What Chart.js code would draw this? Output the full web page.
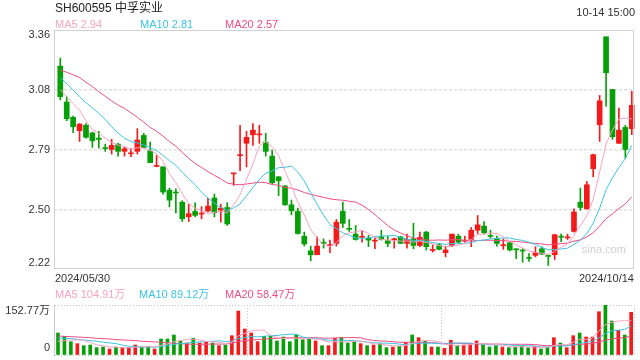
<!DOCTYPE html>
<html><head><meta charset="utf-8">
<script src="https://cdn.jsdelivr.net/npm/chart.js@4/dist/chart.umd.min.js"></script>
<style>
html,body{margin:0;padding:0;background:#fff;}
#wrap{position:relative;width:640px;height:360px;overflow:hidden;font-family:Arial,"Liberation Sans","Noto Sans CJK SC",sans-serif;}
canvas{position:absolute;left:0;top:0;}
.t{position:absolute;white-space:nowrap;font-size:11px;line-height:12px;height:12px;color:#333;}
</style></head>
<body><div id="wrap">
<canvas id="vol" width="640" height="360"></canvas>
<canvas id="price" width="640" height="360"></canvas>
<div id="texts"></div>
</div>
<script>
// ---- data (price in CNY, volume in 万) ----
const dateLabels = ['2024/05/30', '2024/10/14'];
const opens = [3.196,3.022,2.948,2.883,2.909,2.872,2.847,2.801,2.792,2.818,
2.783,2.771,2.783,2.860,2.786,2.710,2.708,2.595,2.586,2.537,
2.466,2.492,2.479,2.494,2.557,2.498,2.511,2.674,2.762,2.822,
2.863,2.863,2.828,2.760,2.660,2.615,2.524,2.492,2.372,2.301,
2.282,2.343,2.326,2.337,2.492,2.410,2.382,2.367,2.363,2.348,
2.369,2.350,2.355,2.369,2.337,2.359,2.327,2.392,2.303,2.330,
2.292,2.327,2.372,2.348,2.356,2.401,2.421,2.374,2.359,2.326,
2.340,2.309,2.303,2.267,2.279,2.311,2.277,2.282,2.371,2.364,
2.395,2.537,2.505,2.699,2.912,3.338,3.083,2.822,2.899,2.893];
const highs = [3.235,3.048,2.954,2.918,2.918,2.876,2.880,2.818,2.841,2.822,
2.805,2.796,2.893,2.870,2.828,2.763,2.708,2.605,2.602,2.544,
2.527,2.534,2.515,2.557,2.576,2.527,2.534,2.677,2.909,2.880,
2.918,2.909,2.870,2.789,2.660,2.618,2.547,2.508,2.392,2.324,
2.369,2.359,2.353,2.453,2.537,2.453,2.424,2.395,2.376,2.363,
2.401,2.372,2.363,2.372,2.382,2.434,2.392,2.395,2.330,2.337,
2.324,2.382,2.382,2.372,2.414,2.472,2.443,2.401,2.372,2.359,
2.343,2.311,2.311,2.288,2.321,2.321,2.282,2.382,2.382,2.382,
2.505,2.605,2.637,2.770,3.054,3.338,3.083,2.993,2.909,3.074];
const lows = [3.032,2.931,2.873,2.831,2.847,2.802,2.799,2.783,2.770,2.760,
2.760,2.757,2.770,2.799,2.728,2.708,2.576,2.515,2.485,2.443,
2.443,2.466,2.456,2.489,2.466,2.440,2.424,2.618,2.689,2.708,
2.812,2.822,2.760,2.624,2.569,2.521,2.476,2.382,2.324,2.253,
2.282,2.314,2.292,2.324,2.414,2.395,2.353,2.343,2.321,2.311,
2.353,2.321,2.314,2.337,2.314,2.311,2.321,2.305,2.295,2.305,
2.272,2.321,2.337,2.343,2.321,2.385,2.382,2.363,2.324,2.308,
2.301,2.263,2.246,2.250,2.272,2.282,2.230,2.259,2.346,2.356,
2.392,2.498,2.502,2.660,2.831,3.002,2.841,2.822,2.750,2.864];
const closes = [3.048,2.941,2.902,2.915,2.851,2.834,2.841,2.796,2.812,2.783,
2.796,2.775,2.838,2.802,2.728,2.713,2.586,2.547,2.581,2.456,
2.481,2.473,2.482,2.518,2.485,2.508,2.431,2.677,2.765,2.851,
2.886,2.867,2.783,2.631,2.641,2.524,2.495,2.385,2.334,2.282,
2.324,2.337,2.329,2.440,2.434,2.405,2.356,2.371,2.353,2.351,
2.356,2.337,2.358,2.337,2.356,2.327,2.366,2.321,2.306,2.308,
2.305,2.382,2.343,2.351,2.401,2.427,2.389,2.371,2.337,2.329,
2.305,2.306,2.300,2.264,2.292,2.285,2.274,2.379,2.367,2.367,
2.489,2.511,2.621,2.767,3.028,3.164,2.854,2.886,2.792,3.006];
const volumes = [67.2,57,40.7,34.6,28.5,30.5,22.4,24.4,18.3,24.4,
22.4,22.4,30.5,24.4,26.5,18.3,48.9,48.9,61.1,42.8,
36.6,50.9,36.6,40.7,36.6,28.5,30.5,59,134.4,79.4,
67.2,40.7,57,57,42.8,55,40.7,61.1,46.8,50.9,
42.8,28.5,28.5,50.9,52.9,36.6,40.7,34.6,28.5,30.5,
34.6,22.4,24.4,26.5,38.7,61.1,52.9,42.8,24.4,24.4,
20.4,44.8,28.5,30.5,34.6,42.8,32.6,24.4,28.5,24.4,
22.4,24.4,26.5,22.4,26.5,18.3,24.4,52.9,36.6,22.4,
59,67.2,55,55,132.3,152.77,103.8,75.3,61.1,130.3];
// moving-average values visible before enough in-window closes exist
const ma5Head  = [3.083,3.048,3.015,2.983];
const ma10Head = [3.140,3.112,3.080,3.048,3.019,2.993,2.967,2.938,2.902];
const ma20Head = [3.177,3.166,3.154,3.141,3.118,3.097,3.072,3.050,3.027,3.007,2.991,2.970,2.948,2.925,2.899,2.880,2.857,2.830,2.808];
const vma5Head  = [42,44,46,46];
const vma10Head = [52,51,50,48,46,44,42,39,37];
const vma20Head = [58,57,56,55,54,53,51,50,49,47,46,45,44,42,41,40,39,37,36];
// axis text
const priceTickLabels = ['3.36','3.08','2.79','2.50','2.22'];
const priceGridValues = [2.50, 2.79, 3.08];
const volTickLabels = ['152.77万','0'];
const volTickValues = [152.77, 0];
const priceLegend = ['MA5 2.94','MA10 2.81','MA20 2.57'];
const volLegend = ['MA5 104.91万','MA10 89.12万','MA20 58.47万'];
const titleText = 'SH600595 中孚实业';
const timeText = '10-14 15:00';

// ---- styling ----
const RED = '#f21a1a', GREEN = '#079f07';
const C5 = '#f7a3c2', C10 = '#3cc4e2', C20 = '#ee4c84';
const FONT = 'Arial, "Liberation Sans", "Noto Sans CJK SC", sans-serif';

const N = closes.length;
const idx = Array.from({length: N}, (_, i) => i);
const movAvg = (src, n, head) => idx.map(i => {
  if (i < n - 1) return head[i];
  let s = 0; for (let k = i - n + 1; k <= i; k++) s += src[k];
  return s / n;
});
const ma5 = movAvg(closes, 5, ma5Head), ma10 = movAvg(closes, 10, ma10Head), ma20 = movAvg(closes, 20, ma20Head);
const vma5 = movAvg(volumes, 5, vma5Head), vma10 = movAvg(volumes, 10, vma10Head), vma20 = movAvg(volumes, 20, vma20Head);
const colors = idx.map(i => closes[i] >= opens[i] ? RED : GREEN);
const pts = arr => idx.map(i => ({x: i, y: arr[i]}));
const lineDs = (label, arr, color) => ({type: 'line', label, data: pts(arr), borderColor: color, borderWidth: 1,
  pointRadius: 0, fill: false, tension: 0, order: 0});

function labelPlugin(labels, values, inTop, inBottom, frame) {
  return {
    id: 'axisText',
    afterDraw(chart) {
      const {ctx, chartArea: a} = chart;
      const ys = chart.scales.y;
      ctx.save();
      if (frame) {
        ctx.strokeStyle = '#d0d0d0'; ctx.lineWidth = 1;
        ctx.strokeRect(Math.round(a.left) + 0.5, Math.round(a.top) + 0.5,
          Math.round(a.right - a.left) - 1, Math.round(a.bottom - a.top) - 1);
      }
      ctx.fillStyle = '#333'; ctx.font = '11px ' + FONT;
      ctx.textAlign = 'right'; ctx.textBaseline = 'middle';
      labels.forEach((lab, k) => {
        let y = ys.getPixelForValue(values[k]);
        y = Math.min(Math.max(y, a.top + inTop), a.bottom - inBottom);
        ctx.fillText(lab, a.left - 4, y);
      });
      ctx.restore();
    }
  };
}

// ---- price chart ----
new Chart(document.getElementById('price'), {
  type: 'bar',
  data: {datasets: [
    lineDs('MA5', ma5, C5), lineDs('MA10', ma10, C10), lineDs('MA20', ma20, C20),
    {label: 'body', data: idx.map(i => ({x: i, y: [opens[i], closes[i]]})), backgroundColor: colors,
      barThickness: 5, grouped: false, minBarLength: 1, order: 1, clip: false},
    {label: 'wick', data: idx.map(i => ({x: i, y: [lows[i], highs[i]]})), backgroundColor: colors,
      barThickness: 1, grouped: false, minBarLength: 1, order: 2, clip: false}
  ]},
  options: {
    responsive: false, animation: false, events: [],
    layout: {padding: {top: 30, right: 6, bottom: 91, left: 0}},
    plugins: {legend: {display: false}, tooltip: {enabled: false}},
    scales: {
      x: {type: 'linear', min: -0.98, max: 89.35, offset: false, display: false, grid: {offset: false}},
      y: {type: 'linear', min: 2.213, max: 3.371,
        afterFit(s) { s.width = 54; },
        afterBuildTicks(s) { s.ticks = priceGridValues.map(v => ({value: v})); },
        ticks: {display: false},
        grid: {drawTicks: false, color: '#dedede', lineWidth: 1.5},
        border: {display: false, dash: [3, 2]}}
    }
  },
  plugins: [labelPlugin(priceTickLabels, priceTickLabels.map(Number), 5, 6, true)]
});

// ---- volume chart ----
const volXMin = -0.62, volXMax = 89.44;
new Chart(document.getElementById('vol'), {
  type: 'bar',
  data: {datasets: [
    lineDs('MA5', vma5, C5), lineDs('MA10', vma10, C10), lineDs('MA20', vma20, C20),
    {label: 'vol', data: idx.map(i => ({x: i, y: volumes[i]})), backgroundColor: colors,
      barThickness: 3, grouped: false, order: 1}
  ]},
  options: {
    responsive: false, animation: false, events: [],
    layout: {padding: {top: 305, right: 6, bottom: 5, left: 0}},
    plugins: {legend: {display: false}, tooltip: {enabled: false}},
    scales: {
      x: {type: 'linear', min: volXMin, max: volXMax, offset: false,
        afterFit(s) { s.height = 0; },
        afterBuildTicks(s) { s.ticks = [29.5, 59.5, volXMax].map(v => ({value: v})); },
        ticks: {display: false},
        grid: {drawTicks: false, offset: false, color: '#c4c4c4'},
        border: {display: false, dash: [1, 2]}},
      y: {type: 'linear', min: 0, max: 152.77,
        afterFit(s) { s.width = 54; },
        afterBuildTicks(s) { s.ticks = volTickValues.map(v => ({value: v})); },
        ticks: {display: false},
        grid: {drawTicks: false, color: '#c4c4c4'},
        border: {display: true, color: '#cccccc', dash: [1, 2]}}
    }
  },
  plugins: [labelPlugin(volTickLabels, volTickValues, 6, 7, false)]
});

// ---- html text ----
const texts = [
  {s: titleText, l: 55, c: 8, size: 12, color: '#222'},
  {s: timeText, r: 5, c: 12, color: '#333'},
  {s: priceLegend[0], l: 55, c: 24.5, color: C5},
  {s: priceLegend[1], l: 140, c: 24.5, color: C10},
  {s: priceLegend[2], l: 225, c: 24.5, color: C20},
  {s: dateLabels[0], l: 55, c: 278, color: '#333'},
  {s: dateLabels[1], r: 6, c: 278, color: '#333'},
  {s: volLegend[0], l: 55, c: 294.5, color: C5},
  {s: volLegend[1], l: 139, c: 294.5, color: C10},
  {s: volLegend[2], l: 225, c: 294.5, color: C20},
  {s: 'sina.com', l: 582, c: 249, size: 11, color: '#cfcfcf'}
];
const holder = document.getElementById('texts');
texts.forEach(t => {
  const d = document.createElement('div');
  d.className = 't';
  const size = t.size || 11, lh = size + 2;
  d.style.fontSize = size + 'px'; d.style.lineHeight = lh + 'px'; d.style.height = lh + 'px';
  d.style.top = (t.c - lh / 2) + 'px';
  if (t.l !== undefined) d.style.left = t.l + 'px'; else d.style.right = t.r + 'px';
  d.style.color = t.color;
  d.textContent = t.s;
  holder.appendChild(d);
});
</script>
</body></html>
